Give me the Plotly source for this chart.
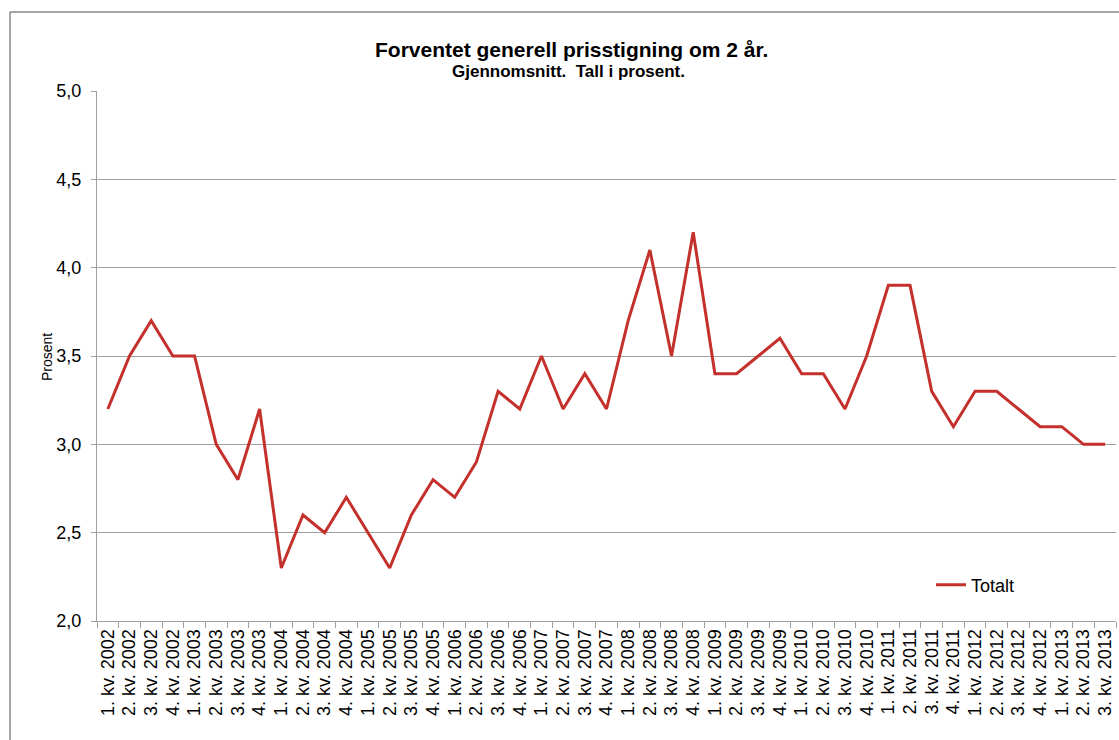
import plotly.graph_objects as go

years = list(range(2002, 2014))
quarters = [f"{q}. kv. {y}" for y in years for q in range(1, 5)][:47]

values = [3.2, 3.5, 3.7, 3.5,
          3.5, 3.0, 2.8, 3.2,
          2.3, 2.6, 2.5, 2.7,
          2.5, 2.3, 2.6, 2.8,
          2.7, 2.9, 3.3, 3.2,
          3.5, 3.2, 3.4, 3.2,
          3.7, 4.1, 3.5, 4.2,
          3.4, 3.4, 3.5, 3.6,
          3.4, 3.4, 3.2, 3.5,
          3.9, 3.9, 3.3, 3.1,
          3.3, 3.3, 3.2, 3.1,
          3.1, 3.0, 3.0]

W, H = 1119, 740
L, R, T, B = 97, 3, 91, 119
pw, ph = W - L - R, H - T - B

def px(x):
    return (x - L) / pw

def py(y):
    return (H - B - y) / ph

font = "Arial, Liberation Sans, sans-serif"

fig = go.Figure()
fig.add_trace(go.Scatter(x=quarters, y=values, mode="lines", name="Totalt",
                         line=dict(color="#C4302B", width=3)))

fig.update_layout(
    width=W, height=H,
    margin=dict(l=L, r=R, t=T, b=B, autoexpand=False),
    paper_bgcolor="white", plot_bgcolor="white",
    font=dict(family=font, color="#000000"),
    separators=", ",
    showlegend=True,
    legend=dict(x=px(931), y=py(585), xanchor="left", yanchor="middle",
                font=dict(size=18, family=font), bgcolor="rgba(0,0,0,0)",
                itemwidth=30),
    xaxis=dict(type="category", range=[-0.5, 46.5], tickangle=-90,
               tickmode="linear", tick0=0, dtick=1,
               tickfont=dict(size=18, family=font), automargin=False,
               showgrid=False, showline=True, linecolor="#A0A0A0", linewidth=1,
               ticks="outside", tickson="boundaries", ticklen=6, tickcolor="#A0A0A0",
               fixedrange=True),
    yaxis=dict(range=[2.0, 5.0], dtick=0.5, tickformat=".1f",
               tickfont=dict(size=18, family=font), automargin=False,
               ticklabelstandoff=6,
               showgrid=True, gridcolor="#A0A0A0", gridwidth=1,
               showline=True, linecolor="#A0A0A0", linewidth=1,
               ticks="outside", ticklen=5, tickcolor="#A0A0A0", zeroline=False),
    annotations=[
        dict(text="<b>Forventet generell prisstigning om 2 år.</b>", x=px(571), y=py(36),
             xref="paper", yref="paper", showarrow=False, font=dict(size=21, family=font)),
        dict(text="<b>Gjennomsnitt.&nbsp; Tall i prosent.</b>", x=px(568), y=py(60),
             xref="paper", yref="paper", showarrow=False, font=dict(size=17, family=font)),
        dict(text="Prosent", x=px(37), y=py(357), xref="paper", yref="paper",
             showarrow=False, textangle=-90, font=dict(size=14, family=font)),
    ],
    shapes=[
        dict(type="line", xref="paper", yref="paper", x0=px(10), x1=px(1119), y0=py(12), y1=py(12),
             line=dict(color="#888888", width=1.5)),
        dict(type="line", xref="paper", yref="paper", x0=px(10), x1=px(10), y0=py(12), y1=py(740),
             line=dict(color="#888888", width=1.5)),
    ],
)

fig.write_html("out.html", config={"displayModeBar": False},
               post_script="document.body.style.margin='0';document.body.style.overflow='hidden';")
